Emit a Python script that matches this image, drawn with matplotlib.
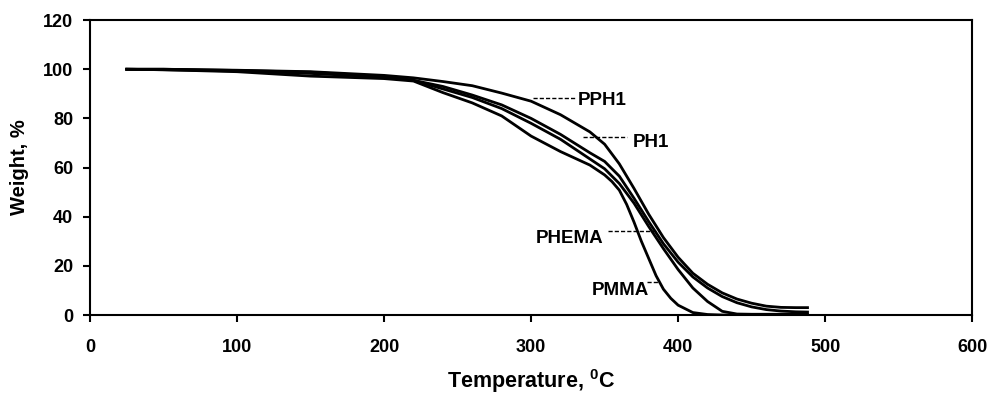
import matplotlib
matplotlib.use("Agg")
import matplotlib.pyplot as plt

plt.rcParams['font.family'] = ['Liberation Sans', 'DejaVu Sans']
plt.rcParams['font.weight'] = 'bold'
plt.rcParams['mathtext.fontset'] = 'custom'
plt.rcParams['mathtext.rm'] = 'Liberation Sans:bold'
plt.rcParams['mathtext.bf'] = 'Liberation Sans:bold'

# Temperature (deg C)
temp = [25, 50, 100, 150, 200, 220, 240, 260, 280, 300, 320, 340, 350, 360,
        370, 380, 390, 400, 410, 420, 430, 440, 450, 460, 470, 480, 488]

pph1 = [100, 100, 99.6, 99.0, 97.5, 96.5, 95.0, 93.3, 90.3, 87.0, 81.5, 74.5,
        69.5, 61.5, 51.5, 41.0, 31.5, 23.5, 17.0, 12.5, 9.0, 6.5, 4.8, 3.6,
        3.1, 3.0, 3.0]
ph1 = [100, 100, 99.5, 98.8, 97.0, 95.5, 93.0, 89.5, 85.5, 80.0, 73.5, 66.0,
       62.5, 56.5, 47.5, 38.0, 29.0, 21.5, 15.5, 11.0, 7.5, 5.0, 3.3, 2.2,
       1.6, 1.3, 1.2]
phema = [100, 99.8, 99.3, 98.3, 96.8, 95.5, 92.0, 88.5, 84.0, 78.0, 71.5, 63.5,
         59.5, 53.5, 45.5, 36.0, 27.0, 18.5, 11.0, 5.5, 1.5, 0.4, 0.3, 0.3,
         0.3, 0.3, 0.3]
pmma_temp = [25, 50, 100, 150, 200, 220, 240, 260, 280, 300, 320, 340, 350, 355,
             360, 365, 370, 375, 380, 385, 390, 395, 400, 410, 420, 430, 450, 470, 485]
pmma = [100, 99.8, 99.0, 97.2, 96.2, 95.2, 90.5, 86.3, 81.0, 72.8, 66.5, 61.0,
        57.0, 54.3, 50.8, 45.0, 37.8, 30.0, 23.0, 16.0, 10.5, 6.8, 4.0, 1.0, 0.2,
        0, 0, 0, 0]

labels = ["PPH1", "PH1", "PHEMA", "PMMA"]
label_text_pos = [(332, 87.3), (369, 70.0), (303, 31.3), (341, 9.9)]
label_lead = [((301, 330), 88.3), ((335, 365), 72.5), ((352, 388), 34.3), ((379, 386), 13.6)]

fig = plt.figure(figsize=(9.89, 3.94), dpi=100)
ax = fig.add_axes([0.091, 0.2005, 0.892, 0.7485])

for y in (pph1, ph1, phema):
    ax.plot(temp, y, color='black', lw=2.0)
ax.plot(pmma_temp, pmma, color='black', lw=2.0)

for lab, (tx, ty), ((x0, x1), ly) in zip(labels, label_text_pos, label_lead):
    ax.plot([x0, x1], [ly, ly], color='black', lw=1.0, ls=(0, (3, 1.5)))
    ax.text(tx, ty, lab, fontsize=13.5, fontweight='bold', ha='left', va='center')

ax.set_xlim(0, 600)
ax.set_ylim(0, 120)
ax.set_xticks([0, 100, 200, 300, 400, 500, 600])
ax.set_yticks([0, 20, 40, 60, 80, 100, 120])
ax.tick_params(axis='x', direction='out', length=5, width=1.5, pad=12, labelsize=13)
ax.tick_params(axis='y', direction='out', length=5, width=1.5, pad=7, labelsize=13)
for lbl in ax.get_xticklabels() + ax.get_yticklabels():
    lbl.set_fontweight('bold')
for s in ax.spines.values():
    s.set_linewidth(1.5)

ax.set_xlabel("Temperature, $^{0}$C", fontsize=15.5, fontweight='bold', labelpad=8)
ax.set_ylabel("Weight, %", fontsize=14.5, fontweight='bold', labelpad=10)

fig.savefig("out.png", dpi=100)
